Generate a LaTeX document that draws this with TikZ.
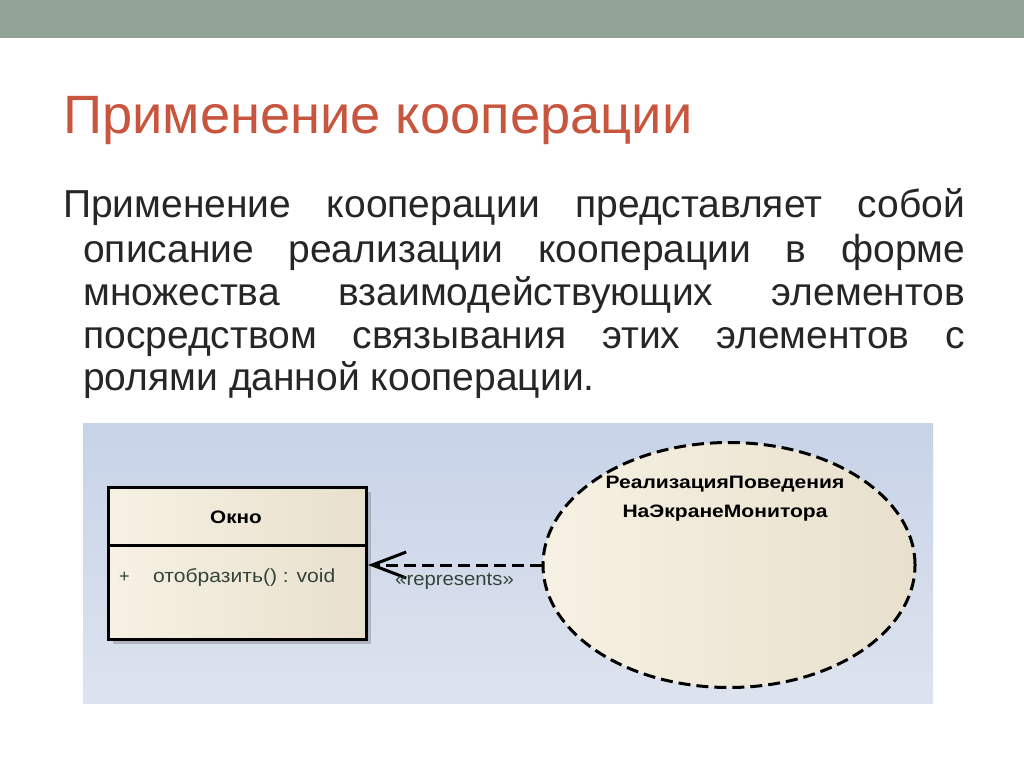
\documentclass[tikz,border=0pt]{standalone}
\usepackage{fontspec}
\setmainfont{Liberation Sans}
\usetikzlibrary{shapes.geometric,arrows.meta}
\definecolor{barcol}{HTML}{91A297}
\definecolor{titlecol}{HTML}{C8553D}
\definecolor{bodycol}{HTML}{262626}
\definecolor{panTop}{HTML}{C8D3E8}
\definecolor{panBot}{HTML}{DDE3EE}
\definecolor{creamL}{HTML}{F6F1E3}
\definecolor{creamR}{HTML}{E8E0CD}
\definecolor{opcol}{HTML}{34443A}
\tikzset{
  bodyline/.style={anchor=base west, inner sep=0pt, font=\fontsize{39}{43}\selectfont, text=bodycol},
  umlbox/.style={draw=black, line width=3pt, shading=axis, left color=creamL, right color=creamR, inner sep=0pt},
}
\newcommand{\jline}[2]{\makebox[#1][s]{#2}}
\newcommand{\wide}[2]{\scalebox{#1}[1]{#2}}
\begin{document}
\begin{tikzpicture}[x=1pt,y=-1pt]
\useasboundingbox (0,0) rectangle (1024,767);
\fill[white] (0,0) rectangle (1024,767);
\fill[barcol] (0,0) rectangle (1024,38);
% title
\node[anchor=base west, inner sep=0pt, font=\fontsize{54}{60}\selectfont, text=titlecol] (title) at (63,134) {\wide{1.005}{Применение кооперации}};
% body
\node[bodyline] (l1) at (63,218) {\jline{902pt}{Применение кооперации представляет собой}};
\node[bodyline] (l2) at (83,262) {\jline{882pt}{описание реализации кооперации в форме}};
\node[bodyline] (l3) at (83,305) {\jline{882pt}{множества взаимодействующих элементов}};
\node[bodyline] (l4) at (83,348) {\jline{882pt}{посредством связывания этих элементов с}};
\node[bodyline] (l5) at (83,390) {ролями данной кооперации.};
% panel
\shade[top color=panTop, bottom color=panBot] (83,423) rectangle (933,703);
% class box shadow
\fill[black, opacity=0.18] (113,492) rectangle (371,644);
\node[umlbox, minimum width=258pt, minimum height=58pt, anchor=north west] (clshead) at (107,486) {};
\node[umlbox, minimum width=258pt, minimum height=94pt, anchor=north west] (clsbody) at (107,544) {};
\node[font=\bfseries\fontsize{18}{20}\selectfont] (clsname) at (236,517) {\wide{1.15}{Окно}};
\node[anchor=base west, inner sep=0pt, font=\fontsize{18}{18}\selectfont, text=opcol] (plus) at (119,582) {+};
\node[anchor=base west, inner sep=0pt, font=\fontsize{19}{19}\selectfont, text=opcol] (op) at (153,582) {\wide{1.11}{отобразить() : void}};
% ellipse
\node[ellipse, draw=black, line width=3pt, dash pattern=on 12pt off 6pt, shading=axis, left color=creamL, right color=creamR, minimum width=372pt, minimum height=245pt, inner sep=0pt] (ell) at (729,565) {};
\node[align=center, font=\bfseries\fontsize{18}{29}\selectfont, inner sep=0pt] (elltext) at (725,499) {\wide{1.17}{РеализацияПоведения}\\\wide{1.17}{НаЭкранеМонитора}};
% connector
\draw[line width=3pt, dash pattern=on 12pt off 6pt, -{Straight Barb[length=34pt,width=26pt,line width=3pt]}] (ell.west) -- (ell.west -| clsbody.east);
\node[anchor=base west, inner sep=0pt, font=\fontsize{19}{19}\selectfont, text=opcol] (lbl) at (395,585) {\wide{1.07}{«represents»}};
\end{tikzpicture}
\end{document}
